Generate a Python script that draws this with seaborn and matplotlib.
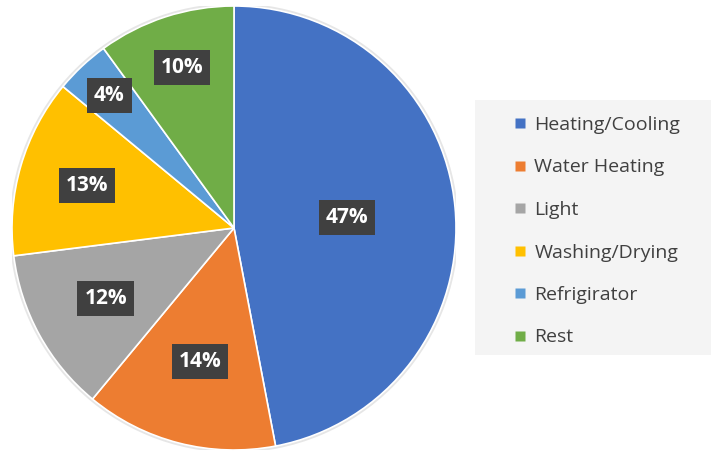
import matplotlib
matplotlib.use("Agg")
import matplotlib.pyplot as plt
import seaborn as sns
import numpy as np
from matplotlib.patches import Rectangle, Circle
from matplotlib.lines import Line2D

categories = ["Heating/Cooling", "Water Heating", "Light", "Washing/Drying", "Refrigirator", "Rest"]
values = [47, 14, 12, 13, 4, 10]
labels = ["47%", "14%", "12%", "13%", "4%", "10%"]
colors = ["#4472C4", "#ED7D31", "#A5A5A5", "#FFC000", "#5B9BD5", "#70AD47"]
label_dist = [0.51, 0.62, 0.66, 0.69, 0.82, 0.76]

sns.set_theme(style="white")
plt.rcParams['font.family'] = ['Open Sans', 'DejaVu Sans']
palette = sns.color_palette(colors)

fig = plt.figure(figsize=(7.11, 4.51), dpi=100)
R = 222
ax = fig.add_axes([(234 - R)/711, (451 - 228 - R)/451, 2*R/711, 2*R/451])
ax.add_patch(Circle((0, 0), 1.012, facecolor="#e6e6e6", edgecolor="none", zorder=0))
wedges, _ = ax.pie(values, colors=palette, startangle=90, counterclock=False,
                   wedgeprops=dict(edgecolor="white", linewidth=1.2),
                   shadow=False)
ax.set_xlim(-1.0, 1.0)
ax.set_ylim(-1.0, 1.0)
ax.set_aspect("equal")

for w, lab, d in zip(wedges, labels, label_dist):
    ang = np.deg2rad((w.theta1 + w.theta2) / 2)
    x, y = d * np.cos(ang), d * np.sin(ang)
    ax.text(x, y, lab, ha="center", va="center", color="white", fontsize=15,
            fontweight="bold",
            bbox=dict(boxstyle="square,pad=0.33", facecolor="#404040", edgecolor="none"))

# legend background
fig.patches.append(Rectangle((475/711, (451-355)/451), 236/711, 255/451,
                             transform=fig.transFigure, facecolor="#f4f4f4",
                             edgecolor="none", zorder=0))
handles = [Line2D([0], [0], marker="s", linestyle="none", markersize=7.5,
                  markerfacecolor=c, markeredgecolor="none") for c in palette]
leg = fig.legend(handles, categories, loc="upper left",
                 bbox_to_anchor=(510/711, (451-116)/451), frameon=False,
                 fontsize=14, labelspacing=1.26, handletextpad=0.25,
                 handlelength=1.0, borderpad=0, borderaxespad=0)
for t in leg.get_texts():
    t.set_color("#404040")

fig.savefig("out.png", dpi=100)
